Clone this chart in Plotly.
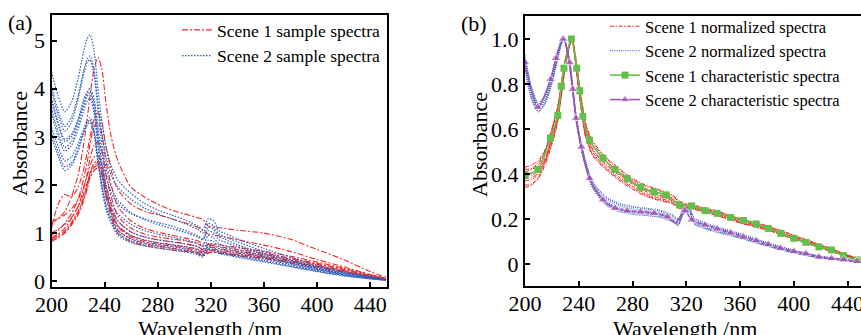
import plotly.graph_objects as go

# ---------------- data ----------------
wavelength = [200, 205, 210, 215, 220, 224, 227, 229, 232, 235, 238, 241, 245, 250, 260, 270,
              280, 290, 300, 310, 314, 318, 322, 326, 330, 340, 360, 380, 400, 420, 440, 452]

scene1_samples = [
    [1.2, 1.3, 1.45, 1.75, 2.2, 2.8, 3.4, 3.85, 4.4, 4.65, 4.4, 3.7, 3.0, 2.5, 1.95, 1.75, 1.6, 1.48, 1.4, 1.32, 1.28, 1.15, 1.12, 1.11, 1.1, 1.06, 1.0, 0.87, 0.66, 0.45, 0.2, 0.08],
    [1.1, 1.6, 1.8, 1.75, 1.95, 2.3, 2.7, 3.0, 3.35, 3.5, 3.3, 2.8, 2.3, 1.9, 1.6, 1.45, 1.38, 1.3, 1.22, 1.12, 1.05, 0.98, 0.96, 0.94, 0.92, 0.86, 0.75, 0.62, 0.45, 0.3, 0.14, 0.06],
    [0.95, 1.05, 1.2, 1.4, 1.7, 2.1, 2.5, 2.85, 3.2, 3.3, 3.05, 2.5, 2.0, 1.55, 1.25, 1.1, 1.02, 0.96, 0.9, 0.84, 0.78, 0.76, 0.78, 0.76, 0.74, 0.7, 0.62, 0.52, 0.4, 0.27, 0.13, 0.05],
    [0.9, 0.98, 1.1, 1.3, 1.55, 1.9, 2.25, 2.55, 2.82, 2.9, 2.7, 2.2, 1.75, 1.35, 1.1, 0.98, 0.92, 0.88, 0.84, 0.78, 0.72, 0.74, 0.74, 0.72, 0.7, 0.66, 0.58, 0.48, 0.37, 0.25, 0.12, 0.05],
    [1.25, 1.3, 1.38, 1.5, 1.7, 1.95, 2.2, 2.4, 2.58, 2.6, 2.45, 2.0, 1.6, 1.25, 1.02, 0.92, 0.86, 0.82, 0.78, 0.72, 0.66, 0.7, 0.7, 0.68, 0.66, 0.62, 0.55, 0.46, 0.35, 0.24, 0.11, 0.04],
    [0.85, 0.92, 1.02, 1.2, 1.42, 1.72, 2.0, 2.25, 2.45, 2.5, 2.35, 1.92, 1.5, 1.15, 0.95, 0.85, 0.8, 0.76, 0.72, 0.67, 0.62, 0.66, 0.66, 0.65, 0.63, 0.59, 0.52, 0.43, 0.33, 0.22, 0.1, 0.04],
    [1.0, 1.08, 1.18, 1.32, 1.55, 1.8, 2.05, 2.25, 2.4, 2.45, 2.3, 1.88, 1.48, 1.12, 0.92, 0.82, 0.77, 0.73, 0.69, 0.64, 0.58, 0.63, 0.63, 0.62, 0.6, 0.56, 0.5, 0.41, 0.31, 0.21, 0.1, 0.04],
    [0.88, 0.95, 1.05, 1.22, 1.45, 1.72, 1.98, 2.2, 2.36, 2.4, 2.25, 1.82, 1.42, 1.06, 0.88, 0.78, 0.73, 0.69, 0.65, 0.6, 0.55, 0.6, 0.6, 0.59, 0.58, 0.54, 0.48, 0.39, 0.3, 0.2, 0.09, 0.03],
    [0.82, 0.9, 1.0, 1.16, 1.38, 1.65, 1.92, 2.15, 2.3, 2.35, 2.2, 1.75, 1.35, 1.0, 0.82, 0.74, 0.69, 0.65, 0.62, 0.58, 0.53, 0.58, 0.6, 0.58, 0.57, 0.53, 0.47, 0.38, 0.29, 0.19, 0.09, 0.03],
]

scene2_samples = [
    [4.35, 3.85, 3.52, 3.72, 4.2, 4.75, 5.05, 5.12, 4.8, 4.0, 3.3, 2.8, 2.4, 2.1, 1.82, 1.62, 1.48, 1.38, 1.28, 1.15, 1.08, 1.3, 1.26, 1.05, 1.0, 0.88, 0.68, 0.5, 0.33, 0.2, 0.1, 0.04],
    [4.05, 3.55, 3.22, 3.4, 3.85, 4.35, 4.62, 4.68, 4.4, 3.7, 3.05, 2.6, 2.2, 1.95, 1.7, 1.52, 1.4, 1.3, 1.2, 1.08, 1.0, 1.2, 1.15, 0.98, 0.93, 0.82, 0.62, 0.45, 0.3, 0.18, 0.09, 0.04],
    [3.95, 3.45, 3.12, 3.3, 3.78, 4.28, 4.55, 4.6, 4.3, 3.55, 2.85, 2.35, 1.95, 1.68, 1.42, 1.28, 1.18, 1.1, 1.02, 0.92, 0.86, 1.05, 1.0, 0.86, 0.82, 0.72, 0.56, 0.42, 0.28, 0.17, 0.08, 0.03],
    [3.8, 3.3, 2.95, 3.05, 3.35, 3.7, 3.9, 3.95, 3.7, 3.05, 2.45, 2.0, 1.65, 1.4, 1.18, 1.05, 0.98, 0.92, 0.86, 0.8, 0.74, 0.95, 0.9, 0.78, 0.74, 0.66, 0.52, 0.38, 0.26, 0.15, 0.07, 0.03],
    [3.6, 3.1, 2.78, 2.9, 3.25, 3.62, 3.85, 3.9, 3.6, 2.9, 2.3, 1.85, 1.5, 1.25, 1.02, 0.92, 0.86, 0.82, 0.78, 0.72, 0.66, 0.85, 0.82, 0.72, 0.69, 0.62, 0.5, 0.37, 0.25, 0.15, 0.07, 0.03],
    [3.5, 3.0, 2.7, 2.82, 3.15, 3.52, 3.75, 3.8, 3.5, 2.8, 2.2, 1.75, 1.42, 1.15, 0.95, 0.86, 0.8, 0.76, 0.72, 0.66, 0.6, 0.78, 0.76, 0.68, 0.65, 0.58, 0.47, 0.35, 0.24, 0.14, 0.06, 0.02],
    [3.2, 2.8, 2.5, 2.58, 2.85, 3.15, 3.35, 3.4, 3.15, 2.55, 2.0, 1.6, 1.3, 1.05, 0.88, 0.8, 0.75, 0.72, 0.68, 0.6, 0.55, 0.72, 0.7, 0.62, 0.6, 0.54, 0.44, 0.33, 0.22, 0.13, 0.06, 0.02],
    [3.1, 2.68, 2.38, 2.45, 2.75, 3.1, 3.3, 3.35, 3.1, 2.5, 1.95, 1.55, 1.25, 1.0, 0.84, 0.76, 0.72, 0.68, 0.64, 0.58, 0.52, 0.68, 0.66, 0.6, 0.57, 0.52, 0.42, 0.31, 0.21, 0.12, 0.05, 0.02],
    [3.0, 2.6, 2.3, 2.4, 2.7, 3.05, 3.25, 3.3, 3.05, 2.45, 1.9, 1.5, 1.2, 0.95, 0.8, 0.73, 0.69, 0.65, 0.61, 0.55, 0.5, 0.65, 0.63, 0.57, 0.55, 0.5, 0.4, 0.3, 0.2, 0.11, 0.05, 0.02],
    [3.75, 3.25, 2.9, 3.0, 3.35, 3.75, 3.95, 4.0, 3.8, 3.2, 2.65, 2.2, 1.85, 1.6, 1.4, 1.3, 1.22, 1.15, 1.06, 0.95, 0.88, 1.12, 1.08, 0.92, 0.88, 0.76, 0.58, 0.42, 0.27, 0.16, 0.08, 0.03],
]

scene1_normalized = [
    [0.43, 0.44, 0.46, 0.51, 0.6, 0.69, 0.8, 0.88, 0.96, 1.0, 0.9, 0.77, 0.62, 0.54, 0.47, 0.42, 0.375, 0.345, 0.325, 0.3, 0.28, 0.265, 0.265, 0.26, 0.252, 0.238, 0.2, 0.168, 0.126, 0.083, 0.04, 0.012],
    [0.41, 0.42, 0.44, 0.5, 0.59, 0.68, 0.79, 0.87, 0.96, 1.0, 0.89, 0.76, 0.61, 0.53, 0.46, 0.41, 0.37, 0.335, 0.315, 0.292, 0.272, 0.262, 0.262, 0.256, 0.248, 0.234, 0.196, 0.164, 0.122, 0.08, 0.037, 0.011],
    [0.39, 0.395, 0.415, 0.47, 0.56, 0.65, 0.77, 0.86, 0.95, 1.0, 0.88, 0.74, 0.59, 0.51, 0.44, 0.395, 0.355, 0.322, 0.3, 0.28, 0.26, 0.255, 0.256, 0.25, 0.243, 0.228, 0.19, 0.158, 0.117, 0.076, 0.035, 0.01],
    [0.37, 0.375, 0.4, 0.46, 0.55, 0.64, 0.76, 0.85, 0.95, 1.0, 0.88, 0.74, 0.58, 0.5, 0.43, 0.385, 0.345, 0.312, 0.292, 0.274, 0.256, 0.25, 0.252, 0.247, 0.24, 0.225, 0.187, 0.155, 0.115, 0.074, 0.034, 0.01],
    [0.35, 0.355, 0.385, 0.45, 0.54, 0.63, 0.75, 0.84, 0.94, 1.0, 0.87, 0.73, 0.57, 0.49, 0.425, 0.378, 0.338, 0.305, 0.286, 0.27, 0.252, 0.248, 0.25, 0.245, 0.238, 0.222, 0.184, 0.152, 0.112, 0.072, 0.033, 0.009],
    [0.34, 0.35, 0.38, 0.44, 0.53, 0.62, 0.74, 0.83, 0.94, 1.0, 0.87, 0.72, 0.565, 0.485, 0.42, 0.372, 0.332, 0.3, 0.282, 0.266, 0.248, 0.245, 0.248, 0.243, 0.236, 0.22, 0.182, 0.15, 0.11, 0.07, 0.032, 0.009],
    [0.42, 0.425, 0.45, 0.505, 0.6, 0.69, 0.8, 0.88, 0.96, 1.0, 0.91, 0.78, 0.63, 0.55, 0.475, 0.425, 0.38, 0.35, 0.33, 0.305, 0.284, 0.27, 0.268, 0.262, 0.254, 0.24, 0.202, 0.17, 0.128, 0.085, 0.041, 0.012],
    [0.38, 0.385, 0.405, 0.465, 0.56, 0.65, 0.77, 0.855, 0.95, 1.0, 0.885, 0.745, 0.595, 0.515, 0.445, 0.4, 0.36, 0.328, 0.306, 0.285, 0.265, 0.258, 0.258, 0.253, 0.245, 0.23, 0.192, 0.16, 0.119, 0.078, 0.036, 0.01],
]

scene2_normalized = [
    [0.92, 0.78, 0.71, 0.75, 0.84, 0.94, 0.99, 1.0, 0.94, 0.81, 0.66, 0.56, 0.46, 0.37, 0.295, 0.265, 0.252, 0.245, 0.236, 0.214, 0.198, 0.245, 0.25, 0.2, 0.19, 0.168, 0.133, 0.094, 0.06, 0.034, 0.018, 0.011],
    [0.9, 0.76, 0.695, 0.735, 0.82, 0.92, 0.985, 1.0, 0.93, 0.8, 0.65, 0.545, 0.445, 0.355, 0.28, 0.25, 0.237, 0.23, 0.222, 0.2, 0.185, 0.235, 0.24, 0.19, 0.178, 0.158, 0.125, 0.087, 0.055, 0.03, 0.016, 0.01],
    [0.88, 0.74, 0.68, 0.72, 0.81, 0.91, 0.98, 1.0, 0.925, 0.79, 0.64, 0.535, 0.435, 0.345, 0.27, 0.24, 0.228, 0.222, 0.214, 0.192, 0.176, 0.228, 0.235, 0.182, 0.17, 0.15, 0.118, 0.082, 0.05, 0.027, 0.014, 0.009],
    [0.86, 0.725, 0.675, 0.71, 0.8, 0.9, 0.975, 1.0, 0.92, 0.785, 0.635, 0.53, 0.43, 0.34, 0.262, 0.232, 0.22, 0.215, 0.207, 0.186, 0.17, 0.222, 0.23, 0.176, 0.164, 0.145, 0.114, 0.079, 0.048, 0.026, 0.013, 0.008],
    [0.91, 0.77, 0.705, 0.745, 0.83, 0.93, 0.99, 1.0, 0.935, 0.805, 0.655, 0.55, 0.45, 0.36, 0.288, 0.258, 0.245, 0.238, 0.23, 0.208, 0.192, 0.24, 0.245, 0.196, 0.184, 0.163, 0.13, 0.09, 0.058, 0.032, 0.017, 0.01],
    [0.89, 0.75, 0.69, 0.73, 0.815, 0.915, 0.98, 1.0, 0.93, 0.795, 0.645, 0.54, 0.44, 0.35, 0.275, 0.245, 0.232, 0.226, 0.218, 0.196, 0.18, 0.232, 0.238, 0.186, 0.174, 0.154, 0.121, 0.084, 0.052, 0.028, 0.015, 0.009],
    [0.87, 0.735, 0.68, 0.715, 0.805, 0.905, 0.975, 1.0, 0.925, 0.79, 0.64, 0.535, 0.435, 0.345, 0.266, 0.236, 0.224, 0.218, 0.21, 0.189, 0.173, 0.225, 0.232, 0.179, 0.167, 0.148, 0.116, 0.08, 0.049, 0.026, 0.014, 0.008],
    [0.93, 0.785, 0.715, 0.755, 0.845, 0.94, 0.995, 1.0, 0.94, 0.815, 0.665, 0.56, 0.46, 0.37, 0.3, 0.27, 0.256, 0.248, 0.24, 0.218, 0.2, 0.248, 0.252, 0.203, 0.192, 0.17, 0.136, 0.096, 0.062, 0.035, 0.019, 0.011],
]

char1_wl = [200, 209.6, 219, 224.4, 227, 229, 234.5, 238.5, 240.7, 243, 248, 258, 267, 276, 286, 296, 305, 315, 324, 334, 343, 353, 362.5, 372, 381, 390.4, 400, 409, 418.7, 428, 437, 447]
char1_val = [0.395, 0.42, 0.56, 0.66, 0.79, 0.87, 1.0, 0.87, 0.77, 0.655, 0.55, 0.47, 0.42, 0.38, 0.34, 0.32, 0.307, 0.262, 0.258, 0.237, 0.225, 0.207, 0.193, 0.178, 0.158, 0.136, 0.114, 0.096, 0.076, 0.062, 0.037, 0.018]

char2_wl = [200, 209.6, 219, 223, 228.4, 233.3, 235.6, 238, 242, 248, 258, 267, 276, 286, 296, 306, 312, 319, 324, 334, 343, 353, 362.5, 372, 381, 390, 400, 409, 418.7, 428, 437, 447]
char2_val = [0.895, 0.696, 0.82, 0.914, 1.0, 0.895, 0.776, 0.648, 0.52, 0.38, 0.285, 0.248, 0.236, 0.232, 0.226, 0.21, 0.182, 0.237, 0.196, 0.173, 0.156, 0.138, 0.12, 0.104, 0.087, 0.07, 0.056, 0.046, 0.031, 0.025, 0.019, 0.012]
char2_unmarked = [312]  # line-only point (dip before the 320 nm peak)

x_ticks = [200, 240, 280, 320, 360, 400, 440]
ya_ticks = [0, 1, 2, 3, 4, 5]
yb_ticks = [0, 0.2, 0.4, 0.6, 0.8, 1.0]
yb_labels = ["0", "0.2", "0.4", "0.6", "0.8", "1.0"]

# ---------------- figure ----------------
W, H = 861, 335
FONT = "Liberation Serif, Times New Roman, serif"
RED = "#ee2a2a"
BLUE = "#2f5cbf"
GREEN = "#62c04a"
PURPLE = "#a352b8"

fig = go.Figure()

for i, s in enumerate(scene1_samples):
    fig.add_trace(go.Scatter(x=wavelength, y=s, mode="lines", xaxis="x", yaxis="y",
                             line=dict(color=RED, width=1.1, dash="6px,2px,2px,2px", shape="spline", smoothing=0.7),
                             name="Scene 1 sample spectra", legend="legend",
                             showlegend=(i == 0)))
for i, s in enumerate(scene2_samples):
    fig.add_trace(go.Scatter(x=wavelength, y=s, mode="lines", xaxis="x", yaxis="y",
                             line=dict(color=BLUE, width=1.2, dash="1.5px,1.5px", shape="spline", smoothing=0.7),
                             name="Scene 2 sample spectra", legend="legend",
                             showlegend=(i == 0)))

for i, s in enumerate(scene1_normalized):
    fig.add_trace(go.Scatter(x=wavelength, y=s, mode="lines", xaxis="x2", yaxis="y2",
                             line=dict(color=RED, width=1.0, dash="4px,1.5px,1.5px,1.5px", shape="spline", smoothing=0.7),
                             name="Scene 1 normalized spectra", legend="legend2",
                             showlegend=(i == 0)))
for i, s in enumerate(scene2_normalized):
    fig.add_trace(go.Scatter(x=wavelength, y=s, mode="lines", xaxis="x2", yaxis="y2",
                             line=dict(color=BLUE, width=1.0, dash="1px,1.2px", shape="spline", smoothing=0.7),
                             name="Scene 2 normalized spectra", legend="legend2",
                             showlegend=(i == 0)))

fig.add_trace(go.Scatter(x=char1_wl, y=char1_val, mode="lines+markers", xaxis="x2", yaxis="y2",
                         line=dict(color=GREEN, width=1.6, shape="spline", smoothing=0.7),
                         marker=dict(symbol="square", size=7, color=GREEN),
                         name="Scene 1 characteristic spectra", legend="legend2"))
sizes2 = [0 if w in char2_unmarked else 9 for w in char2_wl]
fig.add_trace(go.Scatter(x=char2_wl, y=char2_val, mode="lines+markers", xaxis="x2", yaxis="y2",
                         line=dict(color=PURPLE, width=1.6, shape="spline", smoothing=0.7),
                         marker=dict(symbol="triangle-up", size=sizes2, color=PURPLE),
                         name="Scene 2 characteristic spectra", legend="legend2"))

axis_common = dict(showgrid=False, zeroline=False, showline=True, linecolor="black", linewidth=2,
                   ticks="inside", ticklen=5, tickwidth=1.5, tickcolor="black", automargin=False,
                   ticklabeloverflow="allow",
                   tickfont=dict(family=FONT, size=22, color="black"))

def px_x(p):
    return p / W

def px_y(p):
    return 1 - p / H

fig.update_layout(
    width=W, height=H, margin=dict(l=0, r=0, t=0, b=0, autoexpand=False),
    paper_bgcolor="white", plot_bgcolor="white",
    font=dict(family=FONT, color="black"),
    xaxis=dict(domain=[px_x(51.5), px_x(387)], range=[200, 452.7], tickvals=x_ticks,
               mirror=True, anchor="y", ticklabelstandoff=-3, **axis_common),
    yaxis=dict(domain=[px_y(287), px_y(15)], range=[-0.12, 5.53], tickvals=ya_ticks,
               mirror=True, anchor="x", **axis_common),
    xaxis2=dict(domain=[px_x(525), 1.0], range=[200, 450], tickvals=x_ticks,
                mirror=True, anchor="y2", ticklabelstandoff=-3, **axis_common),
    yaxis2=dict(domain=[px_y(286), px_y(16)], range=[-0.098, 1.102], tickvals=yb_ticks,
                ticktext=yb_labels, mirror=False, anchor="x2", **axis_common),
    legend=dict(x=px_x(177), y=px_y(12), xanchor="left", yanchor="top",
                bgcolor="rgba(0,0,0,0)", font=dict(family=FONT, size=17.5, color="black"),
                tracegroupgap=0),
    legend2=dict(x=px_x(605), y=px_y(9), xanchor="left", yanchor="top",
                 bgcolor="rgba(0,0,0,0)", font=dict(family=FONT, size=16.5, color="black"),
                 tracegroupgap=0),
    showlegend=True,
)

annotations = [
    dict(text="(a)", x=px_x(20), y=px_y(22)),
    dict(text="(b)", x=px_x(474), y=px_y(23)),
    dict(text="Wavelength /nm", x=px_x(210), y=px_y(328)),
    dict(text="Wavelength /nm", x=px_x(685), y=px_y(328)),
    dict(text="Absorbance", x=px_x(19), y=px_y(144), textangle=-90),
    dict(text="Absorbance", x=px_x(480), y=px_y(145), textangle=-90),
]
for a in annotations:
    fig.add_annotation(xref="paper", yref="paper", showarrow=False, xanchor="center", yanchor="middle",
                       font=dict(family=FONT, size=22, color="black"), **a)

fig.write_html("out.html", config={"responsive": False, "displayModeBar": False},
               post_script="document.body.style.margin='0';document.body.style.overflow='hidden';")
